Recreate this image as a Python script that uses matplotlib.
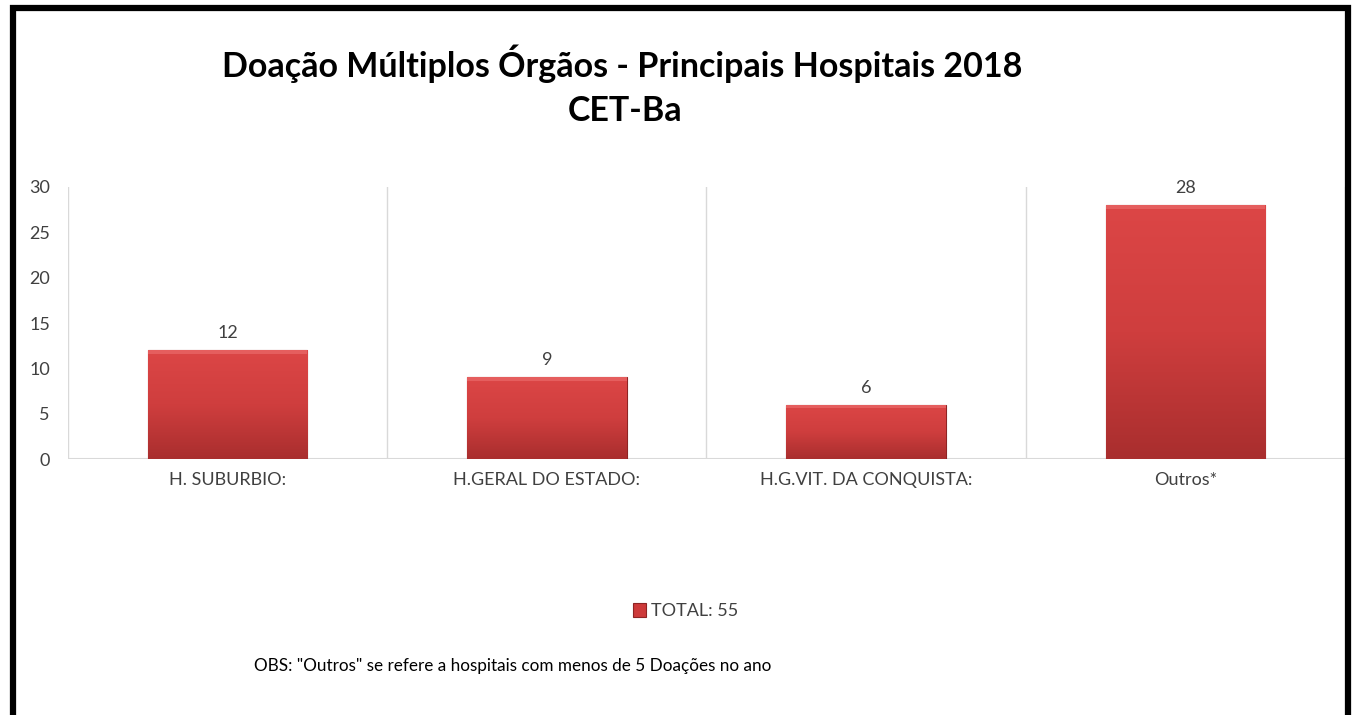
import numpy as np
import matplotlib.pyplot as plt
from matplotlib.patches import Rectangle
from matplotlib.colors import LinearSegmentedColormap

# data
hospitais = ["H. SUBURBIO:", "H.GERAL DO ESTADO:", "H.G.VIT. DA CONQUISTA:", "Outros*"]
doacoes = [12, 9, 6, 28]
serie = "TOTAL: 55"
yticks = [0, 5, 10, 15, 20, 25, 30]

plt.rcParams['font.family'] = ['Lato', 'DejaVu Sans']

fig = plt.figure(figsize=(13.55, 7.15), dpi=100)
ax = fig.add_axes([0.0502, 0.358, 0.9424, 0.3805])

x = np.arange(len(hospitais))
bars = ax.bar(x, doacoes, width=0.5, color='#cd3a3a', edgecolor='#8e2424',
              linewidth=0.8, label=serie, zorder=3)

# vertical gradient inside each bar to fake the bevel look
grad = np.linspace(0, 1, 256).reshape(-1, 1)
cmap = LinearSegmentedColormap.from_list('r', ['#a92e2e', '#cf3e3e', '#dc4646'])
for b in bars:
    x0, w, h = b.get_x(), b.get_width(), b.get_height()
    im = ax.imshow(grad, extent=[x0, x0 + w, 0, h], origin='lower', cmap=cmap,
                   aspect='auto', zorder=3.5)
    im.set_clip_path(b)
    # light top bevel
    ax.add_patch(Rectangle((x0, h - 0.4), w, 0.4, facecolor='#ea6a6a',
                           edgecolor='none', alpha=0.7, zorder=4))
    ax.text(x0 + w / 2, h + 1.0, str(int(h)), ha='center', va='bottom',
            fontsize=13, color='#404040')

ax.set_xlim(-0.5, len(hospitais) - 0.5)
ax.set_ylim(0, 30)
ax.set_yticks(yticks)
ax.set_xticks(x)
ax.set_xticklabels(hospitais)
ax.tick_params(axis='both', length=0, labelsize=13, colors='#404040', pad=9)
ax.tick_params(axis='y', pad=13)
for s in ax.spines.values():
    s.set_visible(False)
ax.axhline(0, color='#d9d9d9', linewidth=1.5, zorder=2)
for xb in np.arange(-0.5, len(hospitais), 1.0):
    ax.axvline(xb, color='#d9d9d9', linewidth=1.0, zorder=1)

fig.text(0.459, 0.911, "Doação Múltiplos Órgãos - Principais Hospitais 2018",
         ha='center', va='center', fontsize=24.5, fontweight='bold', color='black')
fig.text(0.461, 0.845, "CET-Ba", ha='center', va='center', fontsize=24.5,
         fontweight='bold', color='black')

leg = fig.legend(loc='center', bbox_to_anchor=(0.506, 0.145), frameon=False,
                 fontsize=13, handlelength=0.75, handleheight=0.75, handletextpad=0.3)
for t in leg.get_texts():
    t.set_color('#404040')

fig.text(0.378, 0.068, 'OBS: "Outros" se refere a hospitais com menos de 5 Doações no ano',
         ha='center', va='center', fontsize=12.3, color='black')

# outer black frame (bottom edge runs off the picture)
fig.patches.append(Rectangle((0.0095, -0.05), 0.9855, 1.039, transform=fig.transFigure,
                             fill=False, edgecolor='black', linewidth=4.5))

fig.savefig("out.png", dpi=100)
